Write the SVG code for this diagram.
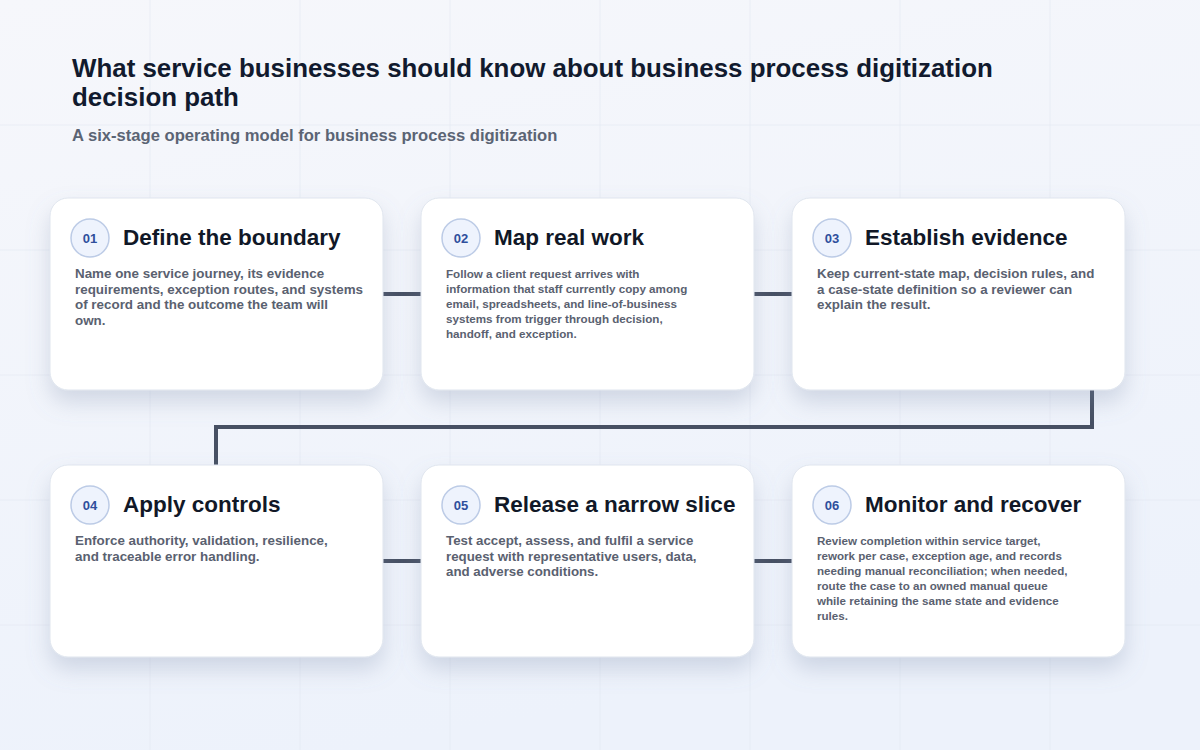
<svg xmlns="http://www.w3.org/2000/svg" width="1200" height="750" viewBox="0 0 1200 750">
<defs>
<linearGradient id="bg" x1="0" y1="0" x2="0.3" y2="1">
<stop offset="0" stop-color="#f6f7fb"/>
<stop offset="1" stop-color="#edf2fb"/>
</linearGradient>
<filter id="sh" x="-20%" y="-20%" width="140%" height="160%">
<feDropShadow dx="0" dy="12" stdDeviation="11" flood-color="#7b8aa8" flood-opacity="0.28"/>
</filter>
<style>
.grid{stroke:#e3e8f1;stroke-width:1;stroke-opacity:0.6}
.card{fill:#ffffff;stroke:#dfe5ee;stroke-width:1;filter:url(#sh)}
.badge{fill:#eef3fd;stroke:#bccbe6;stroke-width:1.5}
.num{font-family:"Liberation Sans",Arial,sans-serif;font-weight:700;font-size:13px;fill:#2f4f9c;text-anchor:middle}
.ttl{font-family:"Liberation Sans",Arial,sans-serif;font-weight:700;font-size:22.5px;fill:#111827}
.body{font-family:"Liberation Sans",Arial,sans-serif;font-weight:700;fill:#5a6170}
.conn{fill:none;stroke:#475063;stroke-width:4}
</style>
</defs>
<rect width="1200" height="750" fill="url(#bg)"/>
<g id="grid">
<line class="grid" x1="150" y1="0" x2="150" y2="750"/>
<line class="grid" x1="300" y1="0" x2="300" y2="750"/>
<line class="grid" x1="450" y1="0" x2="450" y2="750"/>
<line class="grid" x1="600" y1="0" x2="600" y2="750"/>
<line class="grid" x1="750" y1="0" x2="750" y2="750"/>
<line class="grid" x1="900" y1="0" x2="900" y2="750"/>
<line class="grid" x1="1050" y1="0" x2="1050" y2="750"/>
<line class="grid" x1="0" y1="125" x2="1200" y2="125"/>
<line class="grid" x1="0" y1="250" x2="1200" y2="250"/>
<line class="grid" x1="0" y1="375" x2="1200" y2="375"/>
<line class="grid" x1="0" y1="500" x2="1200" y2="500"/>
<line class="grid" x1="0" y1="625" x2="1200" y2="625"/>
</g>
<g id="header" font-family="'Liberation Sans',Arial,sans-serif" font-weight="700">
<text x="72" y="77" font-size="25.9" fill="#111a2e">What service businesses should know about business process digitization</text>
<text x="72" y="106" font-size="25.9" fill="#111a2e">decision path</text>
<text x="72" y="141" font-size="16.6" fill="#5b6474">A six-stage operating model for business process digitization</text>
</g>
<g id="connectors">
<line class="conn" x1="383" y1="294" x2="421" y2="294"/>
<line class="conn" x1="754" y1="294" x2="792" y2="294"/>
<polyline class="conn" points="1092,390 1092,427 216,427 216,465"/>
<line class="conn" x1="383" y1="561" x2="421" y2="561"/>
<line class="conn" x1="754" y1="561" x2="792" y2="561"/>
</g>
<g id="node1">
<rect class="card" x="50" y="198" width="333" height="192" rx="18"/>
<circle class="badge" cx="90" cy="238" r="19"/>
<text class="num" x="90" y="243">01</text>
<text class="ttl" x="123" y="245">Define the boundary</text>
<text class="body" font-size="13.4"><tspan x="75" y="278">Name one service journey, its evidence</tspan><tspan x="75" y="293.5">requirements, exception routes, and systems</tspan><tspan x="75" y="309">of record and the outcome the team will</tspan><tspan x="75" y="324.5">own.</tspan></text>
</g>
<g id="node2">
<rect class="card" x="421" y="198" width="333" height="192" rx="18"/>
<circle class="badge" cx="461" cy="238" r="19"/>
<text class="num" x="461" y="243">02</text>
<text class="ttl" x="494" y="245">Map real work</text>
<text class="body" font-size="11.65"><tspan x="446" y="278">Follow a client request arrives with</tspan><tspan x="446" y="293">information that staff currently copy among</tspan><tspan x="446" y="308">email, spreadsheets, and line-of-business</tspan><tspan x="446" y="323">systems from trigger through decision,</tspan><tspan x="446" y="338">handoff, and exception.</tspan></text>
</g>
<g id="node3">
<rect class="card" x="792" y="198" width="333" height="192" rx="18"/>
<circle class="badge" cx="832" cy="238" r="19"/>
<text class="num" x="832" y="243">03</text>
<text class="ttl" x="865" y="245">Establish evidence</text>
<text class="body" font-size="13.35"><tspan x="817" y="278">Keep current-state map, decision rules, and</tspan><tspan x="817" y="293.5">a case-state definition so a reviewer can</tspan><tspan x="817" y="309">explain the result.</tspan></text>
</g>
<g id="node4">
<rect class="card" x="50" y="465" width="333" height="192" rx="18"/>
<circle class="badge" cx="90" cy="505" r="19"/>
<text class="num" x="90" y="510">04</text>
<text class="ttl" x="123" y="512">Apply controls</text>
<text class="body" font-size="13.4"><tspan x="75" y="545">Enforce authority, validation, resilience,</tspan><tspan x="75" y="560.5">and traceable error handling.</tspan></text>
</g>
<g id="node5">
<rect class="card" x="421" y="465" width="333" height="192" rx="18"/>
<circle class="badge" cx="461" cy="505" r="19"/>
<text class="num" x="461" y="510">05</text>
<text class="ttl" x="494" y="512">Release a narrow slice</text>
<text class="body" font-size="13.3"><tspan x="446" y="545">Test accept, assess, and fulfil a service</tspan><tspan x="446" y="560.5">request with representative users, data,</tspan><tspan x="446" y="576">and adverse conditions.</tspan></text>
</g>
<g id="node6">
<rect class="card" x="792" y="465" width="333" height="192" rx="18"/>
<circle class="badge" cx="832" cy="505" r="19"/>
<text class="num" x="832" y="510">06</text>
<text class="ttl" x="865" y="512">Monitor and recover</text>
<text class="body" font-size="11.6"><tspan x="817" y="545">Review completion within service target,</tspan><tspan x="817" y="560">rework per case, exception age, and records</tspan><tspan x="817" y="575">needing manual reconciliation; when needed,</tspan><tspan x="817" y="590">route the case to an owned manual queue</tspan><tspan x="817" y="605">while retaining the same state and evidence</tspan><tspan x="817" y="620">rules.</tspan></text>
</g>
</svg>
